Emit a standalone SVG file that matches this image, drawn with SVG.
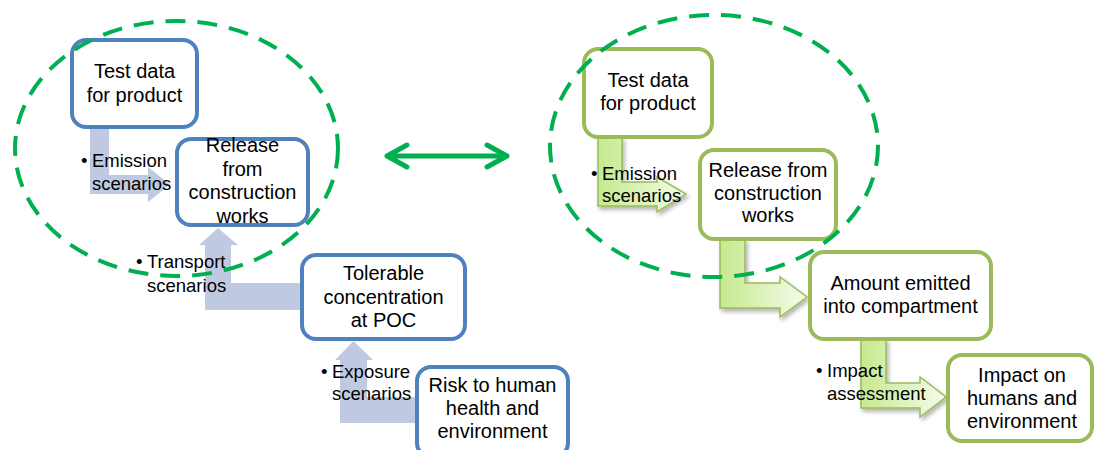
<svg xmlns="http://www.w3.org/2000/svg" width="1096" height="450" viewBox="0 0 1096 450">
<defs>
<linearGradient id="gg" x1="0" y1="0" x2="1" y2="0">
<stop offset="0" stop-color="#C6E98F"/>
<stop offset="1" stop-color="#F4FCEA"/>
</linearGradient>
<filter id="sh" x="-20%" y="-20%" width="150%" height="150%">
<feDropShadow dx="2" dy="3" stdDeviation="2" flood-color="#000" flood-opacity="0.3"/>
</filter>
</defs>
<style>
.bbox{fill:#fff;stroke:#4F81BD;stroke-width:4}
.gbox{fill:#fff;stroke:#9BBB59;stroke-width:4}
.barr{fill:#BFCAE2;stroke:none}
.garr{fill:url(#gg);stroke:#9BBB59;stroke-width:1.5;filter:url(#sh)}
.t{font-family:"Liberation Sans",Arial,sans-serif;font-size:20px;fill:#000;text-anchor:middle}
.l{font-family:"Liberation Sans",Arial,sans-serif;font-size:18.5px;fill:#000}
.dash{fill:none;stroke:#00B050;stroke-width:4;stroke-dasharray:20 12}
</style>
<rect width="1096" height="450" fill="#fff"/>
<g id="connectors">
<path class="barr" d="M90,127 L109,127 L109,175 L148,175 L148,167 L170,184.5 L148,202 L148,194 L90,194 Z"/>
<path class="barr" d="M302,283 L302,310 L205,310 L205,245 L199,245 L218,228 L238,245 L231,245 L231,283 Z"/>
<path class="barr" d="M417,397 L417,423 L340,423 L340,360 L335,360 L353.5,341 L373,360 L367,360 L367,397 Z"/>
<path class="garr" d="M598,137 L622,137 L622,182 L657,182 L657,177 L686,194 L657,212 L657,206 L598,206 Z"/>
<path class="garr" d="M720,239 L745,239 L745,283 L780,283 L780,277 L807,297 L780,317 L780,308 L720,308 Z"/>
<path class="garr" d="M861,339 L886,339 L886,383 L920,383 L920,377 L946,397 L920,417 L920,408 L861,408 Z"/>
<text class="l"><tspan x="81" y="167">•</tspan><tspan x="92" y="167">Emission</tspan><tspan x="92" y="190">scenarios</tspan></text>
<text class="l"><tspan x="136" y="268">•</tspan><tspan x="147" y="268">Transport</tspan><tspan x="147" y="292">scenarios</tspan></text>
<text class="l"><tspan x="321" y="378">•</tspan><tspan x="332" y="378">Exposure</tspan><tspan x="332" y="400">scenarios</tspan></text>
<text class="l"><tspan x="591" y="180">•</tspan><tspan x="602" y="180">Emission</tspan><tspan x="602" y="202">scenarios</tspan></text>
<text class="l"><tspan x="816" y="377">•</tspan><tspan x="827" y="377">Impact</tspan><tspan x="827" y="400">assessment</tspan></text>
</g>
<g id="b1"><rect class="bbox" x="72" y="40" width="125" height="87" rx="14"/>
<text class="t"><tspan x="134.5" y="78">Test data</tspan><tspan x="134.5" y="102">for product</tspan></text></g>
<g id="b2"><rect class="bbox" x="177" y="139" width="131" height="86" rx="14"/>
<text class="t"><tspan x="242.5" y="152">Release</tspan><tspan x="242.5" y="175.5">from</tspan><tspan x="242.5" y="199">construction</tspan><tspan x="242.5" y="222.5">works</tspan></text></g>
<g id="b3"><rect class="bbox" x="302" y="255" width="163" height="84" rx="14"/>
<text class="t"><tspan x="383.5" y="280">Tolerable</tspan><tspan x="383.5" y="303.5">concentration</tspan><tspan x="383.5" y="327">at POC</tspan></text></g>
<g id="b4"><rect class="bbox" x="417" y="367" width="151" height="90" rx="14"/>
<text class="t"><tspan x="492.5" y="392">Risk to human</tspan><tspan x="492.5" y="415">health and</tspan><tspan x="492.5" y="438">environment</tspan></text></g>
<g id="g1"><rect class="gbox" x="584" y="49" width="128" height="88" rx="14"/>
<text class="t"><tspan x="648" y="87">Test data</tspan><tspan x="648" y="110">for product</tspan></text></g>
<g id="g2"><rect class="gbox" x="700" y="150" width="136" height="89" rx="14"/>
<text class="t"><tspan x="768" y="177">Release from</tspan><tspan x="768" y="200">construction</tspan><tspan x="768" y="222">works</tspan></text></g>
<g id="g3"><rect class="gbox" x="810" y="252" width="181" height="87" rx="14"/>
<text class="t"><tspan x="900.5" y="290">Amount emitted</tspan><tspan x="900.5" y="313">into compartment</tspan></text></g>
<g id="g4"><rect class="gbox" x="948" y="355" width="144" height="86" rx="14"/>
<text class="t"><tspan x="1022" y="382">Impact on</tspan><tspan x="1022" y="405">humans and</tspan><tspan x="1022" y="428">environment</tspan></text></g>
<g id="groups">
<ellipse class="dash" cx="176.5" cy="148.5" rx="161.5" ry="127.5"/>
<ellipse class="dash" cx="714" cy="146" rx="164" ry="131"/>
</g>
<g id="link">
<path d="M387,156 L507,156 M407,145 L387,156 L407,167 M487,145 L507,156 L487,167" fill="none" stroke="#00B050" stroke-width="5" stroke-linecap="round" stroke-linejoin="round"/>
</g>
</svg>
